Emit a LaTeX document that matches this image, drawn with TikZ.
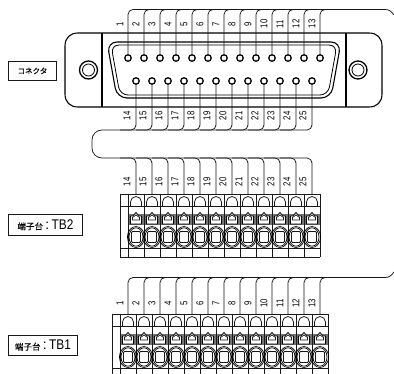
\documentclass[tikz,border=0pt]{standalone}
\usepackage{fontspec}
\setmainfont{Liberation Sans}
\newfontfamily\cjk[FakeBold=0.3]{Noto Sans CJK JP}
\usetikzlibrary{calc}
\tikzset{
  every picture/.style={x=1pt,y=-1pt},
  wire/.style={line width=0.75pt,draw=black!90},
  wirebend/.style={wire,rounded corners=5pt},
  body/.style={line width=1.1pt,draw=black},
  pinhole/.style={circle,draw=black,line width=1.3pt,fill=white,minimum size=6.5pt,inner sep=0pt},
  pinlabel/.style={rotate=90,inner sep=0pt,font=\fontsize{10}{10}\selectfont},
  labelbox/.style={draw=black!90,line width=0.9pt,fill=white,inner sep=0pt,anchor=north west},
  cellline/.style={line width=0.75pt,draw=black!90},
  latch/.style={line width=0.8pt,draw=black},
}
\newcommand{\pnum}[1]{\scalebox{0.78}[1]{#1}}
% one terminal cell, #1 = left x, #2 = top y
\newcommand{\termcell}[2]{%
  \begin{scope}[shift={(#1,#2)}]
    \draw[cellline] (2.5,12) -- (2.5,8) arc[start angle=180,end angle=360,radius=5.5] -- (13.5,12);
    \fill[black!55] (0.5,20) rectangle (15.5,31);
    \draw[latch,fill=white] (2.5,30) -- (2.5,22) -- (5,22) -- (8,18.5) -- (11,22) -- (13.5,22) -- (13.5,30) -- cycle;
    \draw[cellline,fill=white] (4.5,26) -- (4.5,23.5) -- (8,21) -- (11.5,23.5) -- (11.5,26) -- cycle;
    \draw[line width=0.7pt,draw=black] (8,43) ellipse[x radius=8.6,y radius=10.5];
    \draw[line width=0.7pt,draw=black] (8,43) ellipse[x radius=7,y radius=9.2];
    \draw[cellline,rounded corners=1pt] (3.5,37.5) rectangle (12.5,48.5);
  \end{scope}}
\begin{document}
\begin{tikzpicture}
\useasboundingbox (0,0) rectangle (394,374);
\fill[white] (0,0) rectangle (394,374);

% ---- connector body
\draw[body] (78,33) -- (369,33) .. controls (377,33) and (382,38) .. (382,46) -- (382,94) .. controls (382,102) and (377,107) .. (369,107) -- (78,107) .. controls (70,107) and (65,102) .. (65,94) -- (65,46) .. controls (65,38) and (70,33) .. (78,33) -- cycle;
\draw[body] (102,33) -- (102,107);
\draw[body] (346,33) -- (346,107);
\draw[body,rounded corners=10pt] (107,42) -- (341,42) -- (331,98) -- (117,98) -- cycle;
\draw[line width=0.8pt,draw=black,rounded corners=8pt] (111,45) -- (337,45) -- (328,95) -- (120,95) -- cycle;
\node[circle,draw=black,line width=1.3pt,minimum size=18pt,inner sep=0pt] (screwL) at (88.5,70) {};
\node[circle,draw=black,line width=0.8pt,minimum size=12pt,inner sep=0pt] (screwLi) at (88.5,70) {};
\node[circle,draw=black,line width=1.3pt,minimum size=18pt,inner sep=0pt] (screwR) at (358,70) {};
\node[circle,draw=black,line width=0.8pt,minimum size=12pt,inner sep=0pt] (screwRi) at (358,70) {};

% ---- bus coordinates
\coordinate (topbusR) at (385,9.5);
\coordinate (topbusE) at (394,15);
\coordinate (tb1busR) at (385,277.5);
\coordinate (tb1busE) at (394,272);

% ---- terminal blocks
\foreach \x in {120,128,144,160,176,192,208,224,240,256,272,288,304,320}
  {\draw[cellline] (\x,194) -- (\x,257);}
\draw[cellline] (120,194) -- (320,194);
\draw[cellline] (120,206) -- (320,206);
\draw[cellline] (120,248) -- (320,248);
\draw[cellline] (120,257) -- (320,257);
\foreach \x in {128,144,...,304} {\termcell{\x}{194}}

\foreach \x in {112,120,136,152,168,184,200,216,232,248,264,280,296,312,328}
  {\draw[cellline] (\x,314) -- (\x,374);}
\draw[cellline] (112,314) -- (328,314);
\draw[cellline] (112,326) -- (328,326);
\draw[cellline] (112,368) -- (328,368);
\foreach \x in {120,136,...,312} {\termcell{\x}{314}}

% ---- pins 1-13, their wires and the TB1 wires
\foreach \n [evaluate=\n as \px using {128+16*(\n-1)}] in {1,...,13} {
  \node[pinhole] (p\n) at (\px,58) {};
  \coordinate (tj\n) at (\px+16,9.5);
  \coordinate (tbj\n) at (\px+16,277.5);
  \coordinate (tbt\n) at (\px,314);
  \draw[wirebend] (p\n.north) |- (tj\n);
  \draw[wirebend] (tbt\n) |- (tbj\n);
  \node[pinlabel] (la\n) at (\px-8,24) {\pnum{\n}};
  \node[pinlabel] (lb\n) at (\px-8,303) {\pnum{\n}};
}
\draw[wire] (tj1) -- (topbusR) .. controls (389,9.5) and (391,11) .. (topbusE);
\draw[wire] (tbj1) -- (tb1busR) .. controls (389,277.5) and (391,276) .. (tb1busE);

% ---- pins 14-25, their wires and the TB2 wires
\foreach \n [evaluate=\n as \px using {136+16*(\n-14)}] in {14,...,25} {
  \node[pinhole] (p\n) at (\px,81) {};
  \coordinate (lj\n) at (\px-16,130);
  \coordinate (mj\n) at (\px-16,158);
  \coordinate (tbu\n) at (\px,194);
  \draw[wirebend] (p\n.south) |- (lj\n);
  \draw[wirebend] (tbu\n) |- (mj\n);
  \node[pinlabel] (lc\n) at (\px-9,116) {\pnum{\n}};
  \node[pinlabel] (ld\n) at (\px-9,182) {\pnum{\n}};
}
\draw[wire,rounded corners=10pt] (lj25) -- (92,130) -- (92,158) -- (mj25);

% ---- labels
\node[labelbox,minimum width=48pt,minimum height=19pt,font=\cjk\fontsize{7.5}{9}\selectfont] (conn) at (8,61) {コネクタ};
\node[labelbox,minimum width=74pt,minimum height=21pt] (tb2) at (8,214) {{\cjk\fontsize{8.5}{9}\selectfont 端子台}{\fontsize{14}{14}\selectfont\,:\,\scalebox{0.85}[1]{TB2}}};
\node[labelbox,minimum width=69pt,minimum height=20pt] (tb1) at (8,335) {{\cjk\fontsize{8.5}{9}\selectfont 端子台}{\fontsize{14}{14}\selectfont\,:\,\scalebox{0.85}[1]{TB1}}};
\end{tikzpicture}
\end{document}
